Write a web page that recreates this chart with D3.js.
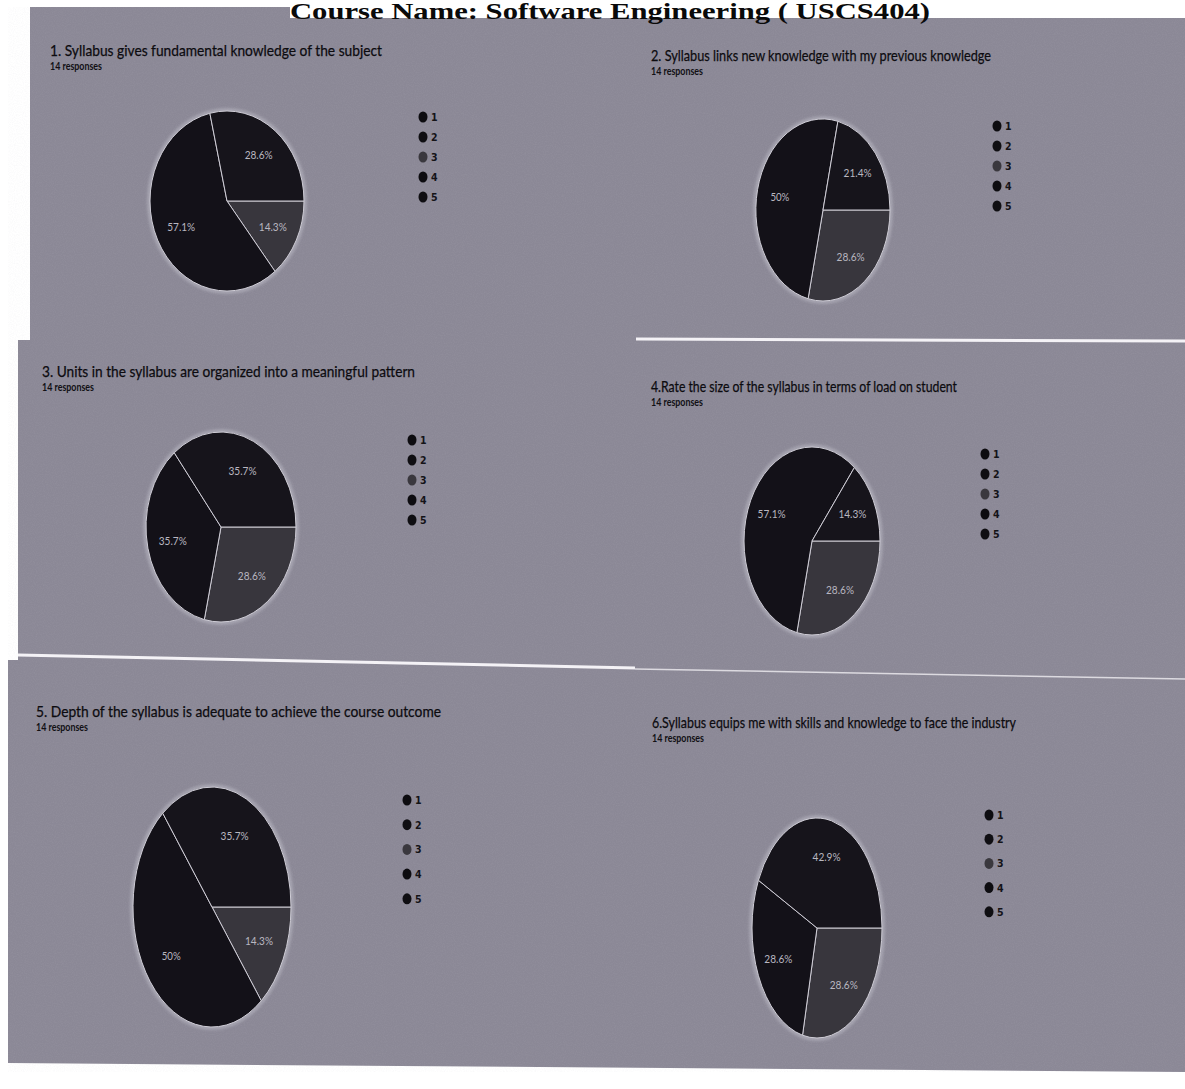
<!DOCTYPE html>
<html>
<head>
<meta charset="utf-8">
<script src="https://cdn.jsdelivr.net/npm/d3@7"></script>
<style>
  html, body { margin: 0; padding: 0; background: #ffffff; }
  svg { display: block; }
</style>
</head>
<body>
<svg id="chart" width="1185" height="1089"></svg>
<script>
// ---------------- DATA ----------------
const pageTitle = "Course Name: Software Engineering ( USCS404)";
const categories = ["1", "2", "3", "4", "5"];
const questions = [
  "1. Syllabus gives fundamental knowledge of the subject",
  "2. Syllabus links new knowledge with my previous knowledge",
  "3. Units in the syllabus are organized into a meaningful pattern",
  "4.Rate the size of the syllabus in terms of load on student",
  "5. Depth of the syllabus is adequate to achieve the course outcome",
  "6.Syllabus equips me with skills and knowledge to face the industry"
];
const responsesLabel = "14 responses";
// counts per option 1..5 (14 responses each)
const q1Counts = [0, 0, 2, 8, 4];
const q2Counts = [0, 0, 4, 7, 3];
const q3Counts = [0, 0, 4, 5, 5];
const q4Counts = [0, 0, 4, 8, 2];
const q5Counts = [0, 0, 2, 7, 5];
const q6Counts = [0, 0, 4, 4, 6];
const allCounts = [q1Counts, q2Counts, q3Counts, q4Counts, q5Counts, q6Counts];

// ---------------- LAYOUT (positions / sizes) ----------------
const layout = [
  { tx: 50,  ty: 56,  tw: 332, cx: 227, cy: 201, rx: 77, ry: 90,  lx: 423, ly: 117, ls: 20 },
  { tx: 651, ty: 61,  tw: 340, cx: 823, cy: 210, rx: 67, ry: 91,  lx: 997, ly: 126, ls: 20 },
  { tx: 42,  ty: 377, tw: 373, cx: 221, cy: 527, rx: 75, ry: 95,  lx: 412, ly: 440, ls: 20 },
  { tx: 651, ty: 392, tw: 306, cx: 812, cy: 541, rx: 68, ry: 94,  lx: 985, ly: 454, ls: 20 },
  { tx: 36,  ty: 717, tw: 405, cx: 212, cy: 907, rx: 79, ry: 120, lx: 407, ly: 800, ls: 24.7 },
  { tx: 652, ty: 728, tw: 364, cx: 817, cy: 928, rx: 65, ry: 110, lx: 989, ly: 815, ls: 24.2 }
];
const sliceColors = ["#141219", "#15131a", "#38363d", "#131118", "#16141b"];
const legendColors = ["#0d0c10", "#0f0e12", "#3a383e", "#0d0c10", "#0f0e12"];

// ---------------- DRAW ----------------
const svg = d3.select("#chart");
const defs = svg.append("defs");

const grain = defs.append("filter").attr("id", "grain").attr("x", 0).attr("y", 0).attr("width", "100%").attr("height", "100%");
grain.append("feTurbulence").attr("type", "fractalNoise").attr("baseFrequency", 0.9).attr("numOctaves", 2).attr("seed", 3).attr("result", "n");
grain.append("feColorMatrix").attr("type", "matrix")
  .attr("values", "0 0 0 0 0.55  0 0 0 0 0.54  0 0 0 0 0.6  0 0 0 0.55 -0.2");
const blur = defs.append("filter").attr("id", "halo").attr("x", "-20%").attr("y", "-20%").attr("width", "140%").attr("height", "140%");
blur.append("feGaussianBlur").attr("stdDeviation", 1.6);

// gray screenshot background
const bgPath = "M30,7 L1185,7 L1185,1072 L8,1063 L8,660 L18,660 L18,340 L30,340 Z";
svg.append("path").attr("d", bgPath).attr("fill", "#8b8896");
svg.append("path").attr("d", bgPath)
  .attr("filter", "url(#grain)").attr("fill", "#000").attr("opacity", 0.35);

// separator lines
svg.append("line").attr("x1", 636).attr("y1", 339).attr("x2", 1185).attr("y2", 341)
  .attr("stroke", "#f4f2f6").attr("stroke-width", 3);
svg.append("line").attr("x1", 18).attr("y1", 655).attr("x2", 635).attr("y2", 668)
  .attr("stroke", "#f4f2f6").attr("stroke-width", 3);
svg.append("line").attr("x1", 635).attr("y1", 669).attr("x2", 1185).attr("y2", 679)
  .attr("stroke", "#dcdae0").attr("stroke-width", 1.5);

// page title
svg.append("rect").attr("x", 290).attr("y", 0).attr("width", 895).attr("height", 18).attr("fill", "#ffffff");
svg.append("text")
  .attr("x", 610).attr("y", 19)
  .attr("text-anchor", "middle")
  .attr("font-family", "'Liberation Serif', 'Times New Roman', serif")
  .attr("font-weight", "bold").attr("font-size", 23)
  .attr("textLength", 640).attr("lengthAdjust", "spacingAndGlyphs")
  .attr("fill", "#0a0a0a")
  .text(pageTitle);

const pie = d3.pie().sort(null).value(d => d).startAngle(Math.PI / 2).endAngle(Math.PI / 2 + 2 * Math.PI);
const pctFmt = v => {
  const s = (v * 100).toFixed(1);
  return (s.endsWith(".0") ? s.slice(0, -2) : s) + "%";
};

allCounts.forEach((counts, i) => {
  const L = layout[i];
  const total = d3.sum(counts);
  const g = svg.append("g");

  // question title
  g.append("text")
    .attr("x", L.tx).attr("y", L.ty)
    .attr("font-family", "Lato, 'Open Sans', sans-serif")
    .attr("font-size", 16).attr("fill", "#0c0b0f")
    .attr("stroke", "#0c0b0f").attr("stroke-width", 0.25)
    .attr("textLength", L.tw).attr("lengthAdjust", "spacingAndGlyphs")
    .text(questions[i]);
  g.append("text")
    .attr("x", L.tx).attr("y", L.ty + 14)
    .attr("font-family", "Lato, 'Open Sans', sans-serif")
    .attr("font-size", 11).attr("font-weight", "bold").attr("fill", "#111014")
    .attr("textLength", 52).attr("lengthAdjust", "spacingAndGlyphs")
    .text(responsesLabel);

  // pie (circle of radius rx stretched vertically like the scan)
  const sy = L.ry / L.rx;
  const arc = d3.arc().innerRadius(0).outerRadius(L.rx);
  const labelArc = d3.arc().innerRadius(L.rx * 0.66).outerRadius(L.rx * 0.66);
  const arcs = pie(counts);

  g.append("ellipse")
    .attr("cx", L.cx).attr("cy", L.cy).attr("rx", L.rx + 1).attr("ry", L.ry + 1)
    .attr("fill", "none").attr("stroke", "#d8d6e0").attr("stroke-opacity", 0.45)
    .attr("stroke-width", 3).attr("filter", "url(#halo)");

  const pg = g.append("g").attr("transform", `translate(${L.cx},${L.cy}) scale(1,${sy})`);
  pg.selectAll("path")
    .data(arcs.filter(d => d.value > 0))
    .join("path")
    .attr("d", arc)
    .attr("fill", d => sliceColors[d.index])
    .attr("stroke", "#cfcdd6")
    .attr("stroke-width", 1)
    .attr("vector-effect", "non-scaling-stroke");

  g.selectAll("text.pct")
    .data(arcs.filter(d => d.value > 0))
    .join("text")
    .attr("class", "pct")
    .attr("x", d => L.cx + labelArc.centroid(d)[0])
    .attr("y", d => L.cy + labelArc.centroid(d)[1] * sy + 4)
    .attr("text-anchor", "middle")
    .attr("font-family", "Lato, 'Open Sans', sans-serif")
    .attr("font-size", 12).attr("fill", "#b9b7c0")
    .attr("textLength", d => pctFmt(d.value / total).length > 3 ? 28 : 19)
    .attr("lengthAdjust", "spacingAndGlyphs")
    .text(d => pctFmt(d.value / total));

  // legend
  const lg = g.append("g");
  categories.forEach((c, k) => {
    lg.append("ellipse")
      .attr("cx", L.lx).attr("cy", L.ly + k * L.ls)
      .attr("rx", 4.5).attr("ry", 5.5)
      .attr("fill", legendColors[k]);
    lg.append("text")
      .attr("x", L.lx + 8).attr("y", L.ly + k * L.ls + 4)
      .attr("font-family", "'DejaVu Sans Condensed', 'DejaVu Sans', sans-serif")
      .attr("font-weight", "bold").attr("font-size", 10.5).attr("fill", "#141317")
      .text(c);
  });
});
</script>
</body>
</html>
